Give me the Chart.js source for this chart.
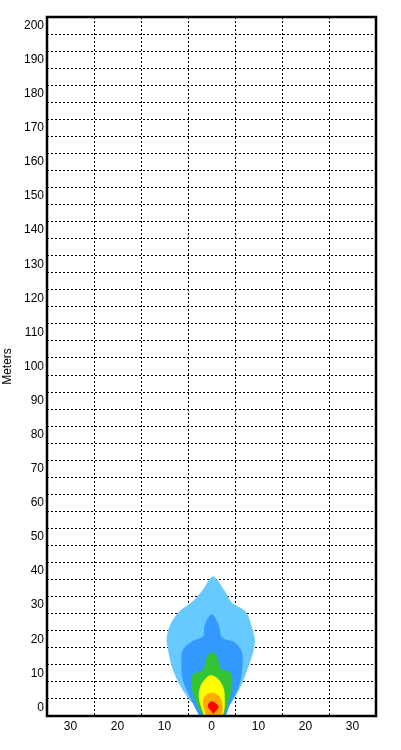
<!DOCTYPE html>
<html>
<head>
<meta charset="utf-8">
<script src="https://cdn.jsdelivr.net/npm/chart.js@4/dist/chart.umd.min.js"></script>
<style>
  html, body { margin: 0; padding: 0; background: #fff; }
  #wrap { width: 401px; height: 750px; position: relative; }
</style>
</head>
<body>
<div id="wrap"><canvas id="plumeChart"></canvas></div>
<script>
// Axis setup
const xRange = [-35, 35];
const yRange = [-2.5, 202.5];
const xLabelValues = [-30, -20, -10, 0, 10, 20, 30];
const yLabelValues = [0, 10, 20, 30, 40, 50, 60, 70, 80, 90, 100, 110, 120, 130, 140, 150, 160, 170, 180, 190, 200];

// Contour outlines (meters), outermost first
const lightBlueX = [-1.3, -2.7, -5.6, -8.1, -9.4, -9.4, -8.5, -6.7, -3.9, -1.7, 0.3, 2.5, 4.3, 7.1, 8.2, 9.1, 7.5, 5.4, 3.1, 1.8];
const lightBlueY = [-3.0, -0.7, 4.2, 11.0, 18.9, 20.8, 24.8, 28.2, 31.1, 34.6, 38.3, 34.6, 30.6, 28.2, 24.8, 18.9, 11.0, 4.2, -0.7, -3.0];

const blueX = [-2.3, -4.2, -6.0, -6.3, -6.0, -3.9, -1.7, -1.4, 0.0, 1.4, 2.2, 5.0, 6.4, 6.4, 5.7, 3.9, 2.4];
const blueY = [-3.0, 2.2, 8.1, 13.0, 16.9, 19.4, 20.8, 23.8, 27.2, 24.3, 20.4, 18.9, 15.9, 11.0, 6.1, 1.2, -3.0];

const greenX = [-1.6, -3.5, -4.2, -3.9, -1.7, -1.0, 0.0, 1.1, 1.8, 3.9, 4.3, 3.6, 2.0];
const greenY = [-3.0, 2.7, 6.6, 9.6, 11.0, 14.5, 16.1, 14.9, 11.5, 10.1, 6.6, 2.2, -3.0];

const yellowX = [-1.5, -2.6, -2.4, -1.7, -0.3, 1.1, 2.2, 2.7, 2.1];
const yellowY = [-2.5, 2.7, 5.6, 7.6, 9.3, 8.6, 6.6, 3.7, -2.5];

const orangeX = [-1.1, -1.7, -1.4, 0.0, 1.4, 2.2, 1.9];
const orangeY = [-2.2, 1.2, 3.2, 4.2, 3.4, 1.2, -2.2];

const redX = [0.4, -0.7, 0.0, 1.4];
const redY = [-1.7, 0.4, 1.7, 0.2];

const contours = [
    { label: 'light blue', xs: lightBlueX, ys: lightBlueY, color: '#66c9ff' },
    { label: 'blue', xs: blueX, ys: blueY, color: '#3399ff' },
    { label: 'green', xs: greenX, ys: greenY, color: '#33c433' },
    { label: 'yellow', xs: yellowX, ys: yellowY, color: '#ffff00' },
    { label: 'orange', xs: orangeX, ys: orangeY, color: '#ffaa00' },
    { label: 'red', xs: redX, ys: redY, color: '#ff0000' }
];

function toPoints(xs, ys) {
    const pts = xs.map((x, i) => ({ x: x, y: ys[i] }));
    pts.push({ x: xs[0], y: ys[0] }); // close the outline
    return pts;
}

// Frame around the plot area
const framePlugin = {
    id: 'frame',
    afterDraw(chart) {
        const a = chart.chartArea;
        const ctx = chart.ctx;
        ctx.save();
        ctx.strokeStyle = '#000';
        ctx.lineWidth = 2.5;
        ctx.strokeRect(a.left, a.top, a.right - a.left, a.bottom - a.top);
        ctx.restore();
    }
};

const ctx = document.getElementById('plumeChart').getContext('2d');
const chart = new Chart(ctx, {
    type: 'scatter',
    data: {
        // inner contours get a lower order so they are drawn on top
        datasets: contours.map((c, i) => ({
            label: c.label,
            data: toPoints(c.xs, c.ys),
            order: contours.length - i,
            showLine: true,
            fill: 'shape',
            backgroundColor: c.color,
            borderColor: c.color,
            borderWidth: 1,
            pointRadius: 0,
            tension: 0.35
        }))
    },
    options: {
        responsive: true,
        maintainAspectRatio: false,
        animation: false,
        layout: { padding: { left: 0, top: 17, right: 25, bottom: 0 } },
        plugins: {
            legend: { display: false },
            tooltip: { enabled: false }
        },
        scales: {
            x: {
                type: 'linear',
                min: xRange[0],
                max: xRange[1],
                afterFit: function(scale) { scale.height = 34; },
                border: { display: false, dash: [2, 2] },
                grid: {
                    drawTicks: false,
                    color: function(c) {
                        const v = Math.round(c.tick.value);
                        if (Math.abs(v) >= 35) return 'rgba(0,0,0,0)';
                        return (v % 10 !== 0) ? '#000' : 'rgba(0,0,0,0)';
                    }
                },
                ticks: {
                    stepSize: 5,
                    autoSkip: false,
                    maxRotation: 0,
                    padding: 3,
                    color: '#000',
                    font: { family: 'Liberation Sans, Arial, sans-serif', size: 12 },
                    callback: function(value) {
                        const v = Math.round(value);
                        return xLabelValues.includes(v) ? String(Math.abs(v)) : '';
                    }
                }
            },
            y: {
                type: 'linear',
                min: yRange[0],
                max: yRange[1],
                afterFit: function(scale) { scale.width = 47; },
                border: { display: false, dash: [2, 2] },
                grid: {
                    drawTicks: false,
                    color: function(c) {
                        const k = Math.round(c.tick.value / 2.5);
                        return (Math.abs(k) % 2 === 1) ? '#000' : 'rgba(0,0,0,0)';
                    }
                },
                ticks: {
                    stepSize: 2.5,
                    autoSkip: false,
                    maxTicksLimit: 200,
                    padding: 3,
                    color: '#000',
                    font: { family: 'Liberation Sans, Arial, sans-serif', size: 12 },
                    callback: function(value) {
                        const v = Math.round(value * 10) / 10;
                        return yLabelValues.includes(v) ? String(v) : '';
                    }
                },
                title: {
                    display: true,
                    text: 'Meters',
                    color: '#000',
                    padding: 0,
                    font: { family: 'Liberation Sans, Arial, sans-serif', size: 12 }
                }
            }
        }
    },
    plugins: [framePlugin]
});
</script>
</body>
</html>
